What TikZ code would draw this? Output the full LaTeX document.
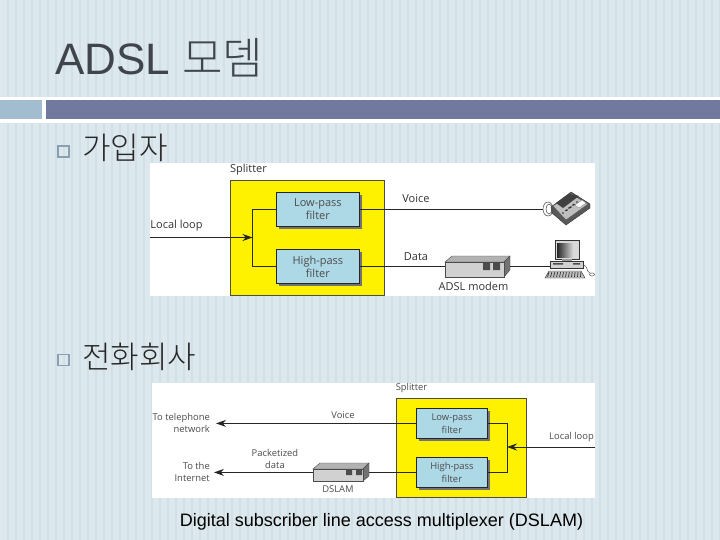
\documentclass[tikz,border=0pt]{standalone}
\usepackage{fontspec}
\setmainfont{Liberation Sans}
\newfontfamily\krfont{Noto Sans CJK KR Light}
\newfontfamily\figfont{Open Sans}
\usetikzlibrary{arrows.meta}
\definecolor{bgbase}{HTML}{DCE8ED}
\definecolor{bgstripe}{HTML}{D1E0E4}
\definecolor{barleft}{HTML}{A2BCD0}
\definecolor{barright}{HTML}{72799F}
\definecolor{titlecol}{HTML}{40454C}
\definecolor{filterfill}{HTML}{ADD8E6}
\definecolor{splitfill}{HTML}{FFF200}
\tikzset{
  x=1pt,y=-1pt,
  lab/.style={font=\figfont\fontsize{11}{12}\selectfont,text=black!80,inner sep=0pt,align=center},
  labs/.style={font=\figfont\fontsize{9.4}{12}\selectfont,text=black!70,inner sep=0pt,align=center},
  filterbox/.style={draw=black!85,line width=0.8pt,fill=filterfill,inner sep=0pt,align=center,text=black!70},
  filterup/.style={filterbox,minimum width=83pt,minimum height=34pt,font=\figfont\fontsize{11}{13}\selectfont},
  filterlo/.style={filterbox,minimum width=71pt,minimum height=30pt,font=\figfont\fontsize{9.4}{13}\selectfont},
  shadow/.style={fill=black!55},
  splitbox/.style={draw=black!70,line width=0.8pt,fill=splitfill,inner sep=0pt},
  wire/.style={draw=black!85,line width=0.9pt},
  arr/.style={wire,-{Stealth[length=10pt,width=7pt]}},
  bullet/.style={draw=barleft!85!black,line width=1.3pt,minimum size=11pt,inner sep=0pt},
  krtext/.style={font=\krfont\fontsize{31}{34}\selectfont,text=black!85,inner sep=0pt,anchor=west}
}
\begin{document}
\begin{tikzpicture}
\useasboundingbox (0,0) rectangle (720,540);
\fill[bgbase] (0,0) rectangle (720,540);
\foreach \i in {0,...,90}{\fill[bgstripe] (6.5+\i*8,0) rectangle (8.5+\i*8,540);}
\fill[white] (0,97) rectangle (720,123);
\fill[barleft] (0,100) rectangle (42,119);
\fill[barright] (46,100) rectangle (720,119);
\node[font=\fontsize{44}{46}\selectfont,text=titlecol,inner sep=0pt,anchor=west] (title) at (55,58) {ADSL {\krfont 모뎀}};
\node[bullet] (b1) at (63.5,151.5) {};
\node[krtext] (t1) at (82,148) {가입자};
\node[bullet] (b2) at (63.5,360) {};
\node[krtext] (t2) at (82,357) {전화회사};
% upper figure
\fill[white] (150,163) rectangle (595,296);
\node[splitbox,minimum width=154pt,minimum height=115pt,anchor=north west] (sp1) at (230,180) {};
\node[lab] (sl1) at (248.5,169.5) {Splitter};
\node[lab] (ll1) at (176.5,226) {Local loop};
\fill[shadow] (279,195) rectangle (362,229);
\node[filterup,anchor=north west] (lp1) at (276,192) {Low-pass\\filter};
\fill[shadow] (279,252) rectangle (362,286);
\node[filterup,anchor=north west] (hp1) at (276,249) {High-pass\\filter};
\coordinate (in1) at (150,237.5);
\coordinate (j1) at (252.5,237.5);
\draw[arr] (in1) -- (j1);
\draw[wire] (lp1.west) -- (j1 |- lp1.west) -- (j1 |- hp1.west) -- (hp1.west);
\node[lab] (voice1) at (416,199) {Voice};
\node[lab] (data1) at (416,257) {Data};
\node[lab] (adsl1) at (473.5,286) {ADSL modem};
\coordinate (phone) at (543,0);
\draw[wire] (lp1.east) -- (phone |- lp1.east);
% modem
\fill[black!30,draw=black!70,line width=.4pt] (445,262) -- (452,256) -- (510,256) -- (504,262) -- cycle;
\fill[black!55,draw=black!70,line width=.4pt] (504,262) -- (510,256) -- (510,270) -- (504,277) -- cycle;
\node[draw=black!70,fill=black!18,minimum width=59pt,minimum height=15pt,inner sep=0pt,anchor=north west] (modem) at (445,262) {};
\fill[black!70] (483,263) rectangle (490,270) (493,263) rectangle (500,270);
\draw[wire] (hp1.east) -- (modem.west |- hp1.east);
\coordinate (pc1) at (550,0);
\coordinate (mr) at (510,0);
\draw[wire] (mr |- hp1.east) -- (pc1 |- hp1.east);
% phone
\fill[black!65,draw=black!80,line width=.4pt] (551,207) -- (571,192) -- (590,204) -- (590,208) -- (566,225) -- (552,213) -- cycle;
\fill[black!25,draw=black!70,line width=.3pt] (553,206) -- (571,194) -- (588,204) -- (566,220) -- cycle;
\fill[black!75] (556,203) -- (569,194) -- (579,196) -- (563,208) -- cycle;
\fill[white,draw=black!60,line width=.2pt] (575,205) -- (582,200) -- (586,203) -- (579,208) -- cycle;
\foreach \u in {0,1,2}\foreach \v in {0,1,2}{\fill[black!85] (563+\u*4+\v*3,213+\v*-2.5+\u*-3) circle (.8pt);}
\draw[black!70,line width=.5pt] (548,209) ellipse (5pt and 7pt) (549,209) ellipse (3pt and 5pt);
% computer
\fill[black!15,draw=black!80,line width=.4pt] (555,240) rectangle (579,259);
\shade[left color=black!85,right color=black!15] (557,243) rectangle (573,257);
\fill[black!40] (562,259) rectangle (572,261);
\fill[black!18,draw=black!80,line width=.4pt] (550,261) rectangle (583,268);
\fill[black!70] (553,263) rectangle (563,264.5) (573,263) rectangle (580,264.5);
\fill[black!25,draw=black!80,line width=.4pt] (549,271) -- (581,271) -- (585,278) -- (545,278) -- cycle;
\foreach \u in {0,...,11}{\draw[black!80,line width=.7pt] (549+\u*2.9,272) -- (547.5+\u*3,277);}
\draw[black!70,line width=.5pt] (583,265) .. controls (588,265) and (586,272) .. (590,273);
\draw[black!70,line width=.5pt,fill=white] (592,274.5) ellipse (2.5pt and 1.6pt);
% lower figure
\fill[white] (152,383) rectangle (595,498);
\node[splitbox,minimum width=130pt,minimum height=99pt,anchor=north west] (sp2) at (396,398) {};
\node[labs] (sl2) at (411.5,388.5) {Splitter};
\fill[shadow] (419,411) rectangle (490,441);
\node[filterlo,anchor=north west] (lp2) at (416,408) {Low-pass\\filter};
\fill[shadow] (419,460) rectangle (490,490);
\node[filterlo,anchor=north west] (hp2) at (416,457) {High-pass\\filter};
\node[labs] (ll2) at (571.5,437) {Local loop};
\coordinate (in2) at (595,447);
\coordinate (j2) at (507,447);
\draw[arr] (in2) -- (j2);
\draw[wire] (lp2.east) -- (j2 |- lp2.east) -- (j2 |- hp2.east) -- (hp2.east);
\node[labs,align=right,anchor=east] (tt) at (210,423) {To telephone\\network};
\node[labs,align=right,anchor=east] (ti) at (210,472) {To the\\Internet};
\node[labs] (voice2) at (343,415) {Voice};
\node[labs] (pd) at (275,459) {Packetized\\data};
\node[labs] (ds) at (338,489) {DSLAM};
\coordinate (o1) at (216,0);
\coordinate (o2) at (214,0);
\draw[arr] (lp2.west) -- (o1 |- lp2.west);
% dslam
\fill[black!30,draw=black!70,line width=.4pt] (313,469) -- (320,463) -- (369,463) -- (363,469) -- cycle;
\fill[black!55,draw=black!70,line width=.4pt] (363,469) -- (369,463) -- (369,476) -- (363,481) -- cycle;
\node[draw=black!70,fill=black!18,minimum width=50pt,minimum height=12pt,inner sep=0pt,anchor=north west] (dslam) at (313,469) {};
\fill[black!70] (346,470) rectangle (352,475) (356,470) rectangle (362,475);
\coordinate (dr) at (369,0);
\draw[wire] (hp2.west) -- (dr |- hp2.west);
\draw[arr] (dslam.west |- hp2.west) -- (o2 |- hp2.west);
\node[font=\fontsize{18}{21}\selectfont,text=black,inner sep=0pt] (cap) at (381.5,522) {Digital subscriber line access multiplexer (DSLAM)};
\end{tikzpicture}
\end{document}
